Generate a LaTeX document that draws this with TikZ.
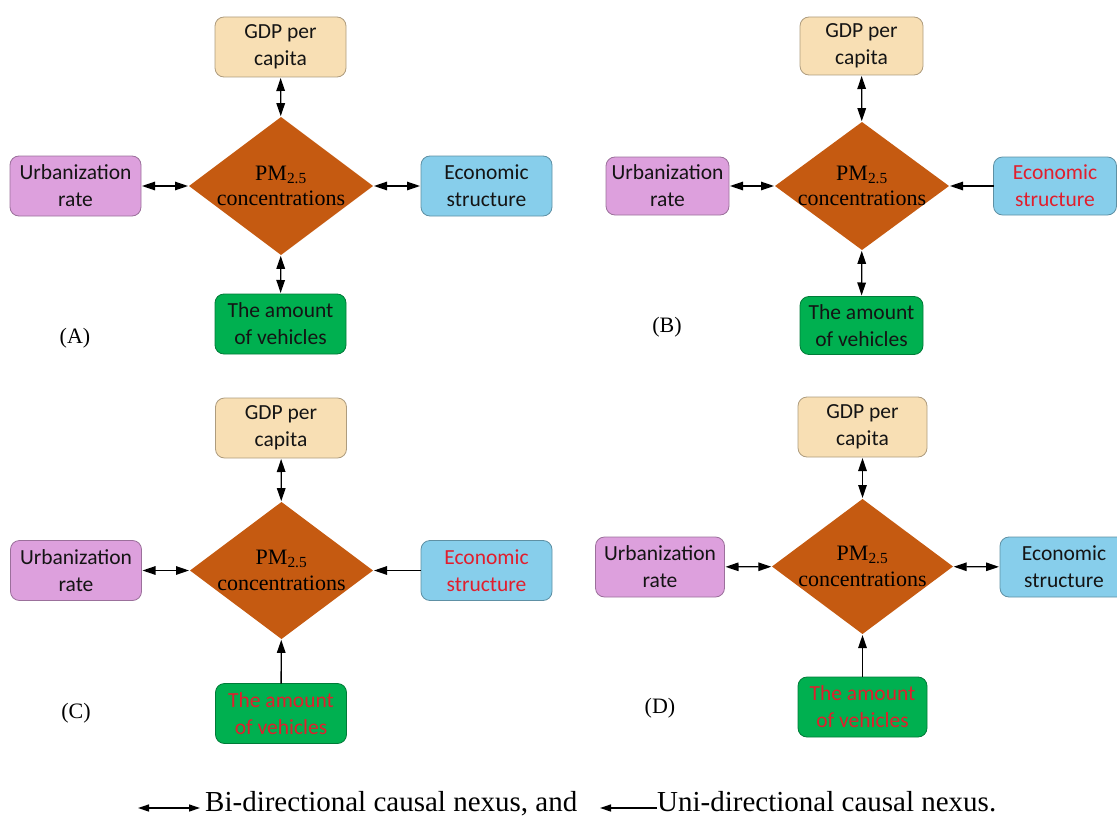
\documentclass[tikz,border=0pt]{standalone}
\usepackage{fontspec}
\setmainfont{Liberation Serif}
\newfontfamily\boxfont{Carlito}
\usetikzlibrary{shapes.geometric,arrows.meta}
\definecolor{gdpc}{RGB}{248,223,180}
\definecolor{urbc}{RGB}{221,160,221}
\definecolor{ecoc}{RGB}{135,206,235}
\definecolor{vehc}{RGB}{0,176,80}
\definecolor{pmc}{RGB}{197,90,17}
\definecolor{redt}{RGB}{225,30,45}
\definecolor{txt}{RGB}{20,20,20}
\tikzset{
  box/.style={rounded corners=9pt, line width=0.8pt, align=center, inner sep=0pt, outer sep=0pt,
    text=txt, font=\boxfont\fontsize{21.5}{27}\selectfont},
  gdp/.style={box, fill=gdpc, draw=gdpc!70!black},
  urb/.style={box, fill=urbc, draw=urbc!70!black},
  eco/.style={box, fill=ecoc, draw=ecoc!70!black},
  veh/.style={box, fill=vehc, draw=vehc!70!black},
  sizeL/.style={minimum width=131pt, minimum height=60pt},
  sizeS/.style={minimum width=123pt, minimum height=58pt},
  pm/.style={diamond, fill=pmc, inner sep=0pt, outer sep=0pt},
  pmt/.style={align=center, inner sep=0pt, font=\rmfamily\fontsize{22}{25.5}\selectfont, text=black},
  lab/.style={font=\rmfamily\fontsize{22}{26}\selectfont, inner sep=0pt},
  tip/.tip={Triangle[length=13pt,width=8.5pt]},
  bi/.style={{tip}-{tip}, line width=1.3pt, shorten >=1pt, shorten <=1pt},
  uni/.style={-{tip}, line width=1.3pt, shorten >=1pt},
  legtip/.tip={Triangle[length=11pt,width=7pt]},
  legbiarrow/.style={{legtip}-{legtip}, line width=1.3pt},
  leguniarrow/.style={-{legtip}, line width=1.3pt},
  rt/.style={text=redt},
  legtext/.style={anchor=base west, inner sep=0pt, font=\rmfamily\fontsize{29}{32}\selectfont}
}
\begin{document}
\begin{tikzpicture}[x=1pt,y=-1pt]
\useasboundingbox (0,0) rectangle (1117,816);
% ---------- Panel A
\node[gdp,sizeL] (gdpA) at (280.5,47) {GDP per\\capita};
\node[urb,sizeL] (urbA) at (75.5,186) {Urbanization\\rate};
\node[eco,sizeL] (ecoA) at (486.5,186) {Economic\\structure};
\node[veh,sizeL] (vehA) at (280.5,324) {The amount\\of vehicles};
\node[pm,minimum width=184pt,minimum height=138pt] (pmA) at (281,186) {};
\node[pmt] (pmAt) at (pmA) {PM\textsubscript{2.5}\\concentrations};
\node[lab] (labA) at (75,338) {(A)};
\draw[bi] (gdpA) -- (pmA);
\draw[bi] (urbA) -- (pmA);
\draw[bi] (ecoA) -- (pmA);
\draw[bi] (vehA) -- (pmA);
% ---------- Panel B
\node[gdp,sizeS] (gdpB) at (861.5,46) {GDP per\\capita};
\node[urb,sizeS] (urbB) at (667.5,186) {Urbanization\\rate};
\node[eco,sizeS,rt] (ecoB) at (1055,186) {Economic\\structure};
\node[veh,sizeS] (vehB) at (861.5,325.5) {The amount\\of vehicles};
\node[pm,minimum width=174pt,minimum height=128pt] (pmB) at (862,186) {};
\node[pmt] (pmBt) at (pmB) {PM\textsubscript{2.5}\\concentrations};
\node[lab] (labB) at (667,327) {(B)};
\draw[bi] (gdpB) -- (pmB);
\draw[bi] (urbB) -- (pmB);
\draw[uni] (ecoB) -- (pmB);
\draw[bi] (vehB) -- (pmB);
% ---------- Panel C
\node[gdp,sizeL] (gdpC) at (281,428) {GDP per\\capita};
\node[urb,sizeL] (urbC) at (76,570.5) {Urbanization\\rate};
\node[eco,sizeL,rt] (ecoC) at (486.5,570.5) {Economic\\structure};
\node[veh,sizeL,rt] (vehC) at (281,713.5) {The amount\\of vehicles};
\node[pm,minimum width=183pt,minimum height=137pt] (pmC) at (281.5,570.5) {};
\node[pmt] (pmCt) at (pmC) {PM\textsubscript{2.5}\\concentrations};
\node[lab] (labC) at (76,713) {(C)};
\draw[bi] (gdpC) -- (pmC);
\draw[bi] (urbC) -- (pmC);
\draw[uni] (ecoC) -- (pmC);
\draw[uni] (vehC) -- (pmC);
% ---------- Panel D
\node[gdp,minimum width=129pt,minimum height=60pt] (gdpD) at (862.5,427) {GDP per\\capita};
\node[urb,minimum width=129pt,minimum height=60pt] (urbD) at (660,567) {Urbanization\\rate};
\node[eco,minimum width=128pt,minimum height=60pt] (ecoD) at (1064,567) {Economic\\structure};
\node[veh,minimum width=129pt,minimum height=60pt,rt] (vehD) at (862.5,707) {The amount\\of vehicles};
\node[pm,minimum width=181pt,minimum height=135pt] (pmD) at (862.5,566.5) {};
\node[pmt] (pmDt) at (pmD) {PM\textsubscript{2.5}\\concentrations};
\node[lab] (labD) at (660,708) {(D)};
\draw[bi] (gdpD) -- (pmD);
\draw[bi] (urbD) -- (pmD);
\draw[bi] (ecoD) -- (pmD);
\draw[uni] (vehD) -- (pmD);
% ---------- Legend
\coordinate (lb1) at (138,808);
\coordinate (lb2) at (200,808);
\draw[legbiarrow] (lb1) -- (lb2);
\node[legtext] (legbi) at (205,811) {Bi-directional causal nexus, and};
\coordinate (lu1) at (600,808);
\coordinate (lu2) at (657,808);
\draw[leguniarrow] (lu2) -- (lu1);
\node[legtext] (leguni) at (657,811) {Uni-directional causal nexus.};
\end{tikzpicture}
\end{document}
